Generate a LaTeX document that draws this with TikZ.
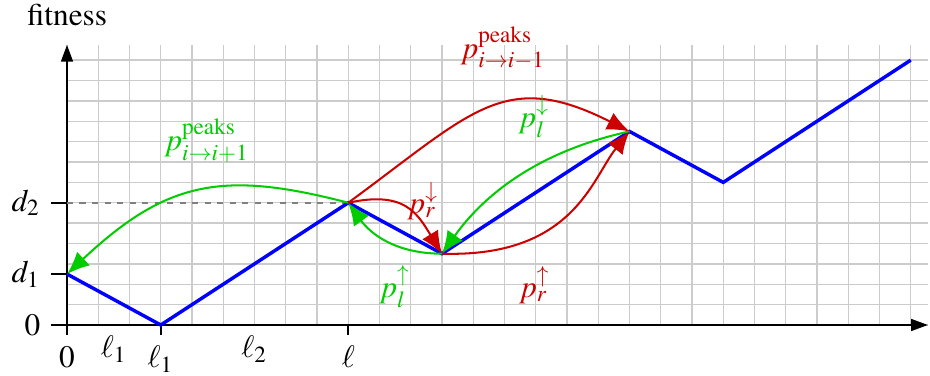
\documentclass[tikz,border=0pt]{standalone}
\usepackage[T1]{fontenc}
\usepackage{mathptmx}
\usepackage{amsmath}
\usepackage{xcolor}
\usetikzlibrary{arrows.meta}
\definecolor{fitblue}{HTML}{0000FF}
\definecolor{fitred}{HTML}{CC0000}
\definecolor{fitgreen}{HTML}{00CC00}
\definecolor{fitgrid}{HTML}{CCCCCC}
\definecolor{fitguide}{HTML}{808080}

\begin{document}
\begin{tikzpicture}[
  x=10pt,
  y=6.52pt,
  every node/.style={font=\normalsize},
  gridline/.style={fitgrid, line width=0.45pt, xstep=1, ystep=1},
  axis/.style={black, line width=0.65pt, -{Triangle[length=5.4pt,width=3.8pt]}},
  tick/.style={black, line width=0.65pt},
  guide/.style={fitguide, line width=0.65pt, dash pattern=on 2pt off 2pt},
  landscape/.style={fitblue, line width=1.1pt, line join=miter},
  rightmove/.style={fitred, line width=0.65pt, -{Latex[length=7.2pt,width=6pt]}},
  leftmove/.style={fitgreen, line width=0.65pt, -{Latex[length=7.2pt,width=6pt]}}
]
  \useasboundingbox (-21.44pt,-16.32pt) rectangle (276.16pt,104pt);

  % ---- grid and axes ----
  \draw[gridline] (0,0) grid (27.55,13.75);
  \draw[axis] (-0.5,0) -- (27.55,0);
  \draw[axis] (0,-0.5) -- (0,13.75);
  \node[anchor=base] (ylabel) at (0,14.72) {fitness};

  % ---- ticks ----
  \draw[tick] (3,0) -- (3,-0.5);
  \draw[tick] (9,0) -- (9,-0.5);
  \draw[tick] (0,2.5) -- (-0.5,2.5);
  \draw[tick] (0,6) -- (-0.5,6);

  % ---- tick labels ----
  \node[below] (xzero) at (0,-0.5) {$0$};
  \node[below] (xlone) at (3,-0.5) {$\ell_1$};
  \node[below] (xell)  at (9,-0.5) {$\ell$};
  \node[below] (segone) at (1.5,0) {$\ell_1$};
  \node[below] (segtwo) at (6,0)   {$\ell_2$};
  \node[left] (yzero) at (-0.5,0)   {$0$};
  \node[left] (ydone) at (-0.5,2.5) {$d_1$};
  \node[left] (ydtwo) at (-0.5,6)   {$d_2$};

  % ---- corners of the landscape ----
  \coordinate (v0) at (0,2.5);
  \coordinate (v1) at (3,0);
  \coordinate (v2) at (9,6);
  \coordinate (v3) at (12,3.5);
  \coordinate (v4) at (18,9.5);
  \coordinate (v5) at (21,7);
  \coordinate (v6) at (27,13);

  % ---- guide at d2 ----
  \draw[guide] (0,6) -- (v2);

  % ---- landscape ----
  \draw[landscape] (v0) -- (v1) -- (v2) -- (v3) -- (v4) -- (v5) -- (v6);

  % ---- moves between peaks ----
  \draw[leftmove]  (v2) .. controls (5,7.6) and (3.2,7.1) .. (v0);
  \draw[rightmove] (v2) .. controls (13,10.5) and (14,12.6) .. (v4);

  % ---- moves inside a period ----
  \draw[rightmove] (v2) .. controls (10.8,6.6) and (11.2,5.5) .. (v3);
  \draw[leftmove]  (v3) .. controls (10.5,3.5) and (9.7,4.5) .. (v2);
  \draw[leftmove]  (v4) .. controls (15,8.5) and (13.3,6.3) .. (v3);
  \draw[rightmove] (v3) .. controls (16.2,3.3) and (16.8,7.2) .. (v4);

  % ---- move labels ----
  \node[fitgreen] (pplus)  at (4.47,9.04)   {$p^{\text{peaks}}_{i\to i+1}$};
  \node[fitred]   (pminus) at (13.95,13.58) {$p^{\text{peaks}}_{i\to i-1}$};
  \node[fitred]   (prdown) at (11.39,6.09)  {$p_r^{\downarrow}$};
  \node[fitgreen] (pldown) at (14.94,10.22) {$p_l^{\downarrow}$};
  \node[fitgreen] (plup)   at (10.49,1.88)  {$p_l^{\uparrow}$};
  \node[fitred]   (prup)   at (14.96,1.96)  {$p_r^{\uparrow}$};
\end{tikzpicture}
\end{document}
